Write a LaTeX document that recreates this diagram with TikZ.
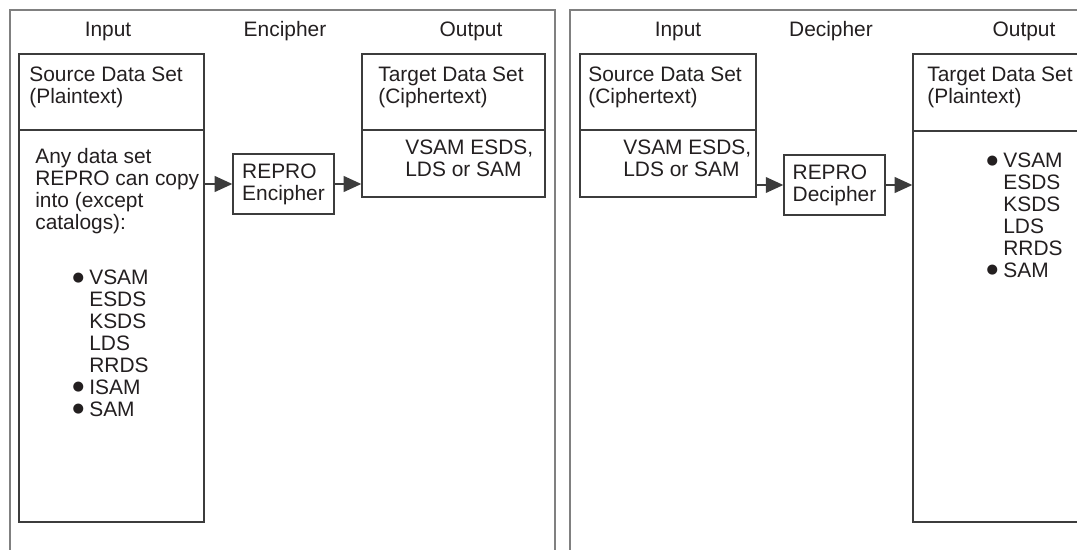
\documentclass[tikz,border=0pt]{standalone}
\usepackage{fontspec}
\setmainfont{Liberation Sans}
\newfontfamily\symfont{DejaVu Sans}
\usetikzlibrary{arrows.meta,fit,positioning}

\definecolor{inkgray}{HTML}{231F20}
\definecolor{framegray}{HTML}{808080}
\definecolor{boxgray}{HTML}{3C3C3C}
\newcommand{\figfont}{\fontsize{11.9}{12.5}\selectfont}
\newcommand{\bul}{\llap{\raisebox{2.2pt}{\symfont\fontsize{7.5}{7.5}\selectfont ●}\hspace{3pt}}}

\begin{document}
\begin{tikzpicture}[x=0.02cm,y=-0.02cm]
	\tikzstyle{frame} = [draw=framegray, line width=0.8pt]
	\tikzstyle{rule} = [draw=boxgray, line width=0.8pt]
	\tikzstyle{box} = [rule, inner sep=0pt]
	\tikzstyle{repro} = [box, minimum width=2.02cm, minimum height=1.2cm, align=left, text=inkgray, font=\figfont]
	\tikzstyle{txt} = [anchor=north west, inner sep=0pt, align=left, text=inkgray, font=\figfont]
	\tikzstyle{hdr} = [anchor=base, inner sep=0pt, text=inkgray, font=\figfont]
	\tikzstyle{arr} = [rule, -{Triangle[length=10pt,width=9pt]}]
	\path[use as bounding box] (0,0) rectangle (1077,550);
	\clip (0,0) rectangle (1077,550);

	\draw[frame] (10,550) |- (555,10) -- (555,550);
	\draw[frame] (570,550) |- (1085,10);

	\node[hdr] (in1) at (108,37) {Input};
	\node[hdr] (op1) at (285,37) {Encipher};
	\node[hdr] (out1) at (471,37) {Output};
	\node[hdr] (in2) at (678,37) {Input};
	\node[hdr] (op2) at (831,37) {Decipher};
	\node[hdr] (out2) at (1024,37) {Output};

	\node[box, fit={(19,54) (204,522)}] (src1) {};
	\draw[rule] (src1.west |- 0,130) -- (src1.east |- 0,130);
	\node[txt] (src1a) at (29,67) {Source Data Set\\(Plaintext)};
	\node[txt] (src1b) at (35,148) {Any data set\\REPRO can copy\\into (except\\catalogs):};
	\node[txt] (src1c) at (89,270) {\bul VSAM\\ESDS\\KSDS\\LDS\\RRDS\\\bul ISAM\\\bul SAM};

	\node[repro] (enc) at (283.5,184) {REPRO\\Encipher};

	\node[box, fit={(362,54) (545,197)}] (tgt1) {};
	\draw[rule] (tgt1.west |- 0,130) -- (tgt1.east |- 0,130);
	\node[txt] (tgt1a) at (378,67) {Target Data Set\\(Ciphertext)};
	\node[txt] (tgt1b) at (405,140) {VSAM ESDS,\\LDS or SAM};

	\draw[arr] (src1.east |- enc.west) -- (enc.west);
	\draw[arr] (enc.east) -- (tgt1.west |- enc.east);

	\node[box, fit={(580,54) (756,197)}] (src2) {};
	\draw[rule] (src2.west |- 0,130) -- (src2.east |- 0,130);
	\node[txt] (src2a) at (588,67) {Source Data Set\\(Ciphertext)};
	\node[txt] (src2b) at (623,140) {VSAM ESDS,\\LDS or SAM};

	\node[repro] (dec) at (834.5,185) {REPRO\\Decipher};

	\node[box, fit={(913,54) (1095,522)}] (tgt2) {};
	\draw[rule] (tgt2.west |- 0,131) -- (tgt2.east |- 0,131);
	\node[txt] (tgt2a) at (927,67) {Target Data Set\\(Plaintext)};
	\node[txt] (tgt2b) at (1003,153) {\bul VSAM\\ESDS\\KSDS\\LDS\\RRDS\\\bul SAM};

	\draw[arr] (src2.east |- dec.west) -- (dec.west);
	\draw[arr] (dec.east) -- (tgt2.west |- dec.east);
\end{tikzpicture}
\end{document}
